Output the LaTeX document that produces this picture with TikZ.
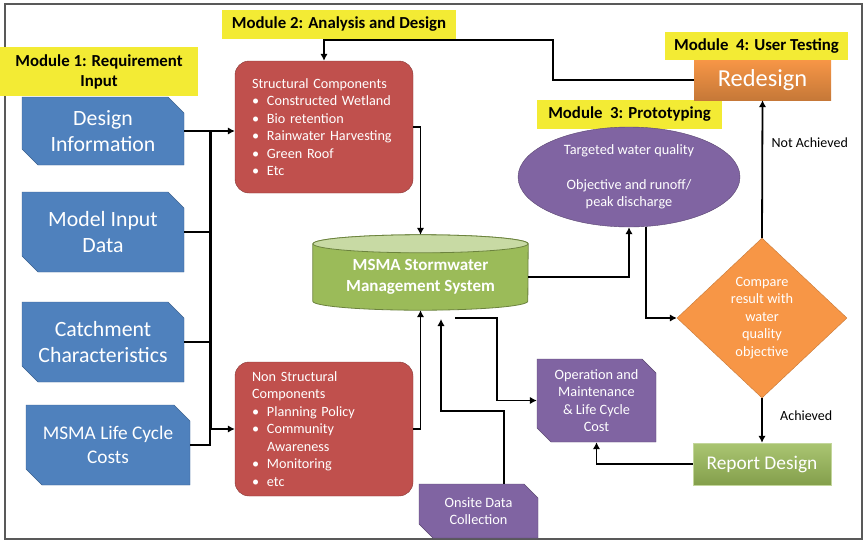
\documentclass[tikz,border=0pt]{standalone}
\usepackage{fontspec}
\setmainfont{Carlito}
\usetikzlibrary{shapes.geometric,shapes.misc,arrows.meta,backgrounds}
\definecolor{modyellow}{RGB}{243,235,52}
\definecolor{inblue}{RGB}{79,129,189}
\definecolor{compred}{RGB}{192,80,77}
\definecolor{sysgreen}{RGB}{155,187,89}
\definecolor{protopurple}{RGB}{128,100,162}
\definecolor{cmporange}{RGB}{247,150,70}
\newcommand{\bul}{\makebox[15pt][l]{\textbullet}}
\tikzstyle{modlabel} = [rectangle,fill=modyellow,text=black,align=center,inner sep=0pt,font=\fontsize{16.8}{20}\selectfont\bfseries]
\tikzstyle{inbox} = [chamfered rectangle,chamfered rectangle corners={north east,south west},chamfered rectangle sep=8pt,fill=inblue,draw=inblue!75!black,text=white,align=center,inner sep=0pt,minimum width=162pt,minimum height=80pt,font=\fontsize{21.8}{25.5}\selectfont]
\tikzstyle{purplebox} = [chamfered rectangle,chamfered rectangle corners={north east,south west},chamfered rectangle sep=7pt,fill=protopurple,draw=protopurple!70!black,text=white,align=center,inner sep=0pt,font=\fontsize{14.3}{17.5}\selectfont]

\begin{document}
\begin{tikzpicture}
		[x=1pt,y=-1pt,
		comp/.style={
		rectangle,
		rounded corners=14pt,
		fill=compred,draw=compred!70!black,
		text=white,text width=178pt,inner sep=0pt,align=left,
		font=\fontsize{14.2}{17.5}\selectfont},
		wire/.style={line width=1.8pt},
		bus/.style={line width=3pt},
		arr/.style={-{Latex[length=7pt,width=7.5pt]},line width=1.8pt}
		]
		\useasboundingbox (0,0) rectangle (867,541);
		\draw[line width=1.4pt,black!65] (5,4) rectangle (862,539);

		% module 1: inputs
		\node[modlabel,minimum width=198pt,minimum height=49pt](mod1) at (99,71.5) {Module 1: Requirement\\Input};
		\node[inbox,minimum height=68pt](design) at (103,131) {Design\\Information};
		\node[inbox](model) at (103,232) {Model Input\\Data};
		\node[inbox](catch) at (103,342) {Catchment\\Characteristics};
		\node[inbox,minimum width=164pt,font=\fontsize{19.3}{24}\selectfont](lcc) at (108,445) {MSMA Life Cycle\\Costs};

		% module 2: analysis and design
		\node[modlabel,minimum width=234pt,minimum height=29pt](mod2) at (339,24.5) {Module 2: Analysis and Design};
		\node[comp,minimum height=132pt](struct) at (324,127) {\leftskip=17pt Structural Components\\\bul Constructed Wetland\\\bul Bio retention\\\bul Rainwater Harvesting\\\bul Green Roof\\\bul Etc\par};
		\node[comp,minimum height=134pt](nonstruct) at (324,429) {\leftskip=17pt Non Structural\\Components\\\bul Planning Policy\\\bul Community\\\hspace*{15pt}Awareness\\\bul Monitoring\\\bul etc\par};
		\node[minimum width=215pt,minimum height=66pt,inner sep=0pt,text=white,align=center,font=\fontsize{17}{20.5}\selectfont\bfseries](sys) at (420.5,277) {MSMA Stormwater\\Management System};
		\begin{scope}[on background layer]
		\filldraw[fill=sysgreen,draw=sysgreen!70!black,line width=0.8pt] (sys.north west) -- ([yshift=9pt]sys.south west) arc[start angle=180,end angle=360,x radius=107.5pt,y radius=9pt] -- (sys.north east) arc[start angle=0,end angle=180,x radius=107.5pt,y radius=9pt] -- cycle;
		\filldraw[fill=sysgreen!55!white,draw=sysgreen!70!black,line width=0.8pt] (sys.north) ellipse[x radius=107.5pt,y radius=9pt];
		\end{scope}
		\node[purplebox,minimum width=119pt,minimum height=83pt](om) at (596.5,400.5) {Operation and\\Maintenance\\\& Life Cycle\\Cost};
		\node[purplebox,minimum width=119pt,minimum height=54pt](onsite) at (478.5,511) {Onsite Data\\Collection};

		% module 3: prototyping
		\node[modlabel,minimum width=185pt,minimum height=29pt](mod3) at (629.5,114.5) {Module\ \ 3: Prototyping};
		\node[ellipse,fill=protopurple,draw=protopurple!70!black,text=white,minimum width=222pt,minimum height=100pt,inner sep=0pt,align=center,font=\fontsize{14.3}{17.5}\selectfont](proto) at (629,177) {Targeted water quality\\[17.5pt]Objective and runoff/\\peak discharge};
		\node[diamond,fill=cmporange,draw=cmporange!80!black,text=white,minimum width=170pt,minimum height=160pt,inner sep=0pt,align=center,font=\fontsize{14.3}{17.5}\selectfont](cmp) at (762,318) {Compare\\result with\\water\\quality\\objective};
		\node[rectangle,top color=sysgreen!85!white,bottom color=sysgreen!85!black,draw=sysgreen!60!white,text=white,minimum width=138pt,minimum height=42pt,font=\fontsize{19.4}{22}\selectfont](report) at (762,464) {Report Design};

		% module 4: user testing
		\node[modlabel,minimum width=183pt,minimum height=28pt](mod4) at (756.5,46) {Module\ \ 4: User Testing};
		\node[rectangle,top color=cmporange,bottom color=cmporange!80!black,text=white,minimum width=137pt,minimum height=40pt,font=\fontsize{24.4}{28}\selectfont](redesign) at (762.5,80) {Redesign};

		% connectors
		\coordinate (bustop) at (210,131);
		\coordinate (busbot) at (210,429);
		\draw[bus] (bustop) -- (busbot);
		\draw[arr] (design.east) -- (struct.west |- design.east);
		\draw[wire] (model.east) -- (model.east -| bustop);
		\draw[wire] (catch.east) -- (catch.east -| bustop);
		\draw[wire] (lcc.east) -| (busbot);
		\draw[arr] (busbot) -- (nonstruct.west);
		\draw[arr] (struct.east) -| ([yshift=9pt]sys.north);
		\draw[arr] (nonstruct.east) -| (sys.south);
		\draw[arr] (redesign.west) -- ++(-141,0) -- ++(0,-40) -| (struct.north);
		\draw[arr] (sys.east) -| (proto.south);
		\draw[arr] ([xshift=17pt]proto.south) |- (cmp.west);
		\draw[arr] (cmp.north) -- node[pos=0.69,right=5pt,font=\fontsize{14}{16}\selectfont](notach) {Not Achieved} (redesign.south);
		\draw[arr] (cmp.south) -- node[pos=0.4,right=14pt,font=\fontsize{14}{16}\selectfont](ach) {Achieved} (report.north);
		\draw[arr] (report.west) -| (om.south);
		\coordinate (omsrc) at (455,318);
		\draw[arr] (omsrc) -- ++(42,0) |- (om.west);
		\coordinate (onsdst) at (441,319);
		\draw[arr] ([xshift=25.5pt]onsite.north) -- ++(0,-73) -| (onsdst);
		\end{tikzpicture}
\end{document}
